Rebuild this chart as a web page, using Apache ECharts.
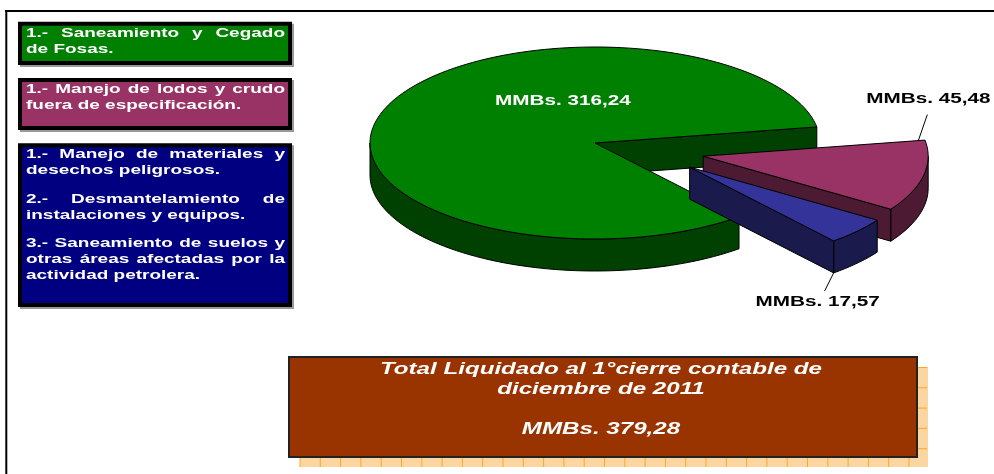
<!DOCTYPE html>
<html>
<head>
<meta charset="utf-8">
<script src="https://cdn.jsdelivr.net/npm/echarts@6/dist/echarts.min.js"></script>
<style>
html, body { margin: 0; padding: 0; background: #fff; }
#main { width: 994px; height: 474px; }
</style>
</head>
<body>
<div id="main"></div>
<script>
// datos del grafico
var sliceNames = ['Saneamiento y Cegado de Fosas', 'Manejo de lodos y crudo', 'Materiales, desmantelamiento y suelos'];
var sliceValues = [316.24, 45.48, 17.57];
var totalValue = 379.28;

var legendTexts = [
    ['1.- Saneamiento y Cegado', 'de Fosas.'],
    ['1.- Manejo de lodos y crudo', 'fuera de especificación.'],
    ['1.- Manejo de materiales y', 'desechos peligrosos.', '',
     '2.- Desmantelamiento de', 'instalaciones y equipos.', '',
     '3.- Saneamiento de suelos y', 'otras áreas afectadas por la', 'actividad petrolera.']
];
var totalTexts = ['Total Liquidado al 1°cierre contable de', 'diciembre de 2011', '', 'MMBs. ' + fmt(totalValue)];

// estilos
var topColors = ['#008000', '#993366', '#333399'];
var sideColors = ['#004000', '#4d1a33', '#1a1a4d'];
var legendColors = ['#008000', '#993366', '#000080'];
var explode = [0, 0.5, 0.49];
var explodeTurn = [0, -4, 11];
var PIE = { cx: 595, cy: 143, rx: 225, ry: 96, depth: 32, startAngle: 309.8 };
var FONT = 'Arial, Liberation Sans, sans-serif';
// el texto original sale ensanchado horizontalmente
var WIDEN = { label: 1.38, legend: 1.46, total: 1.42 };

function fmt(v) { return v.toFixed(2).replace('.', ','); }

var RAD = Math.PI / 180;
var sum = 0;
sliceValues.forEach(function (v) { sum += v; });
var spans = [], cum = [], acc = 0;
sliceValues.forEach(function (v) { var s = v / sum * 360; spans.push(s); cum.push(acc); acc += s; });

function sliceGeom(i) {
    var hi = PIE.startAngle - cum[i];
    var lo = hi - spans[i];
    var dir = (lo + hi) / 2 + explodeTurn[i];
    var k = explode[i];
    return {
        lo: lo, hi: hi,
        ox: PIE.cx + k * PIE.rx * Math.cos(dir * RAD),
        oy: PIE.cy - k * PIE.ry * Math.sin(dir * RAD)
    };
}
function rim(g, a, r, dz) {
    return [g.ox + r * PIE.rx * Math.cos(a * RAD), g.oy - r * PIE.ry * Math.sin(a * RAD) + (dz || 0)];
}
function arc(g, a0, a1, dz) {
    var pts = [];
    var n = Math.max(2, Math.ceil(Math.abs(a1 - a0) / 2));
    for (var j = 0; j <= n; j++) {
        pts.push(rim(g, a0 + (a1 - a0) * j / n, 1, dz));
    }
    return pts;
}
function face(points, fill) {
    return { type: 'polygon', shape: { points: points }, style: { fill: fill, stroke: '#000', lineWidth: 1, lineJoin: 'round' } };
}
function textEl(t, x, y, size, color, align, widen, italic) {
    return { type: 'text', x: x, y: y, scaleX: widen, style: {
        text: t, x: 0, y: 0, fill: color,
        fontSize: size, fontWeight: 'bold', fontStyle: italic ? 'italic' : 'normal', fontFamily: FONT,
        align: align, verticalAlign: 'middle', textAlign: align, textVerticalAlign: 'middle'
    } };
}

// etiquetas de cada porcion
var labelPlace = [
    { inside: true, dx: -32, dy: -42.5 },
    { edge: 'hi', r: 0.97, drop: 0, leader: [9, -26], text: [1, -16] },
    { edge: 'lo', r: 1, drop: 1, leader: [-9, 18], text: [-7, 10.5] }
];

function renderSlice(params, api) {
    var i = params.dataIndex;
    var value = api.value(0);
    var g = sliceGeom(i);
    var d = PIE.depth;
    var kids = [];
    // pared exterior (solo la mitad frontal)
    for (var k = -1; k <= 1; k++) {
        var s = Math.max(g.lo, 180 + 360 * k), e = Math.min(g.hi, 360 + 360 * k);
        if (e > s) {
            kids.push(face(arc(g, s, e, 0).concat(arc(g, e, s, d)), sideColors[i]));
        }
    }
    // caras radiales visibles
    var tip = [g.ox, g.oy], tipB = [g.ox, g.oy + d];
    if (Math.cos(g.lo * RAD) > 0) {
        kids.push(face([tip, rim(g, g.lo, 1, 0), rim(g, g.lo, 1, d), tipB], sideColors[i]));
    }
    if (Math.cos(g.hi * RAD) < 0) {
        kids.push(face([tip, rim(g, g.hi, 1, 0), rim(g, g.hi, 1, d), tipB], sideColors[i]));
    }
    // cara superior
    kids.push(face([tip].concat(arc(g, g.lo, g.hi, 0)), topColors[i]));

    var lp = labelPlace[i];
    var txt = 'MMBs. ' + fmt(value);
    if (lp.inside) {
        kids.push(textEl(txt, g.ox + lp.dx, g.oy + lp.dy, 15, '#fff', 'center', WIDEN.label));
    } else {
        var a = rim(g, lp.edge === 'hi' ? g.hi : g.lo, lp.r, lp.drop * d);
        var b = [a[0] + lp.leader[0], a[1] + lp.leader[1]];
        kids.push({ type: 'line', shape: { x1: a[0], y1: a[1], x2: b[0], y2: b[1] }, style: { stroke: '#000', lineWidth: 1 } });
        kids.push(textEl(txt, b[0] + lp.text[0], b[1] + lp.text[1], 15, '#000', 'center', WIDEN.label));
    }
    return { type: 'group', children: kids };
}

// cuadros de leyenda
var legendBoxes = [
    { y0: 21.7, y1: 65, baseline: 37.7 },
    { y0: 78, y1: 130, baseline: 94.3 },
    { y0: 143.3, y1: 307, baseline: 159.3 }
];
var BOX_X0 = 18, BOX_X1 = 292, TEXT_X0 = 26, TEXT_X1 = 285;
var LINE_PITCH = 16, BLANK_GAP = 12.5;
var measureCtx = document.createElement('canvas').getContext('2d');
function textW(s, font) {
    measureCtx.font = font;
    return measureCtx.measureText(s).width * WIDEN.legend;
}

var graphics = [];
// marco
graphics.push({ type: 'line', shape: { x1: 5, y1: 11, x2: 994, y2: 11 }, style: { stroke: '#000', lineWidth: 2 } });
graphics.push({ type: 'line', shape: { x1: 6.3, y1: 10, x2: 6.3, y2: 474 }, style: { stroke: '#000', lineWidth: 2 } });

legendBoxes.forEach(function (bx, b) {
    graphics.push({ type: 'rect', shape: { x: BOX_X0 + 2, y: bx.y0 + 2, width: BOX_X1 - BOX_X0, height: bx.y1 - bx.y0 },
        style: { fill: '#999' } });
    graphics.push({ type: 'rect', shape: { x: BOX_X0 + 2, y: bx.y0 + 2, width: BOX_X1 - BOX_X0 - 4, height: bx.y1 - bx.y0 - 4 },
        style: { fill: legendColors[b], stroke: '#000', lineWidth: 4 } });
    var font = 'bold 13px ' + FONT;
    var lines = legendTexts[b];
    var y = bx.baseline;
    lines.forEach(function (line, j) {
        if (line === '') { y += BLANK_GAP; return; }
        var next = lines[j + 1];
        var justify = next !== undefined && next !== '';
        var ym = y - 4.5;
        if (justify) {
            var words = line.split(' ');
            var ws = words.map(function (w) { return textW(w, font); });
            var tot = 0;
            ws.forEach(function (w) { tot += w; });
            var gap = (TEXT_X1 - TEXT_X0 - tot) / (words.length - 1);
            var x = TEXT_X0;
            words.forEach(function (w, m) {
                graphics.push(textEl(w, x, ym, 13, '#fff', 'left', WIDEN.legend));
                x += ws[m] + gap;
            });
        } else {
            graphics.push(textEl(line, TEXT_X0, ym, 13, '#fff', 'left', WIDEN.legend));
        }
        y += LINE_PITCH;
    });
});

// cuadro del total con sombra cuadriculada
var TB = { x0: 289, y0: 357, x1: 917, y1: 457, shadow: 10 };
graphics.push({ type: 'rect', shape: { x: TB.x0 + 11, y: TB.y0 + TB.shadow, width: TB.x1 - TB.x0, height: TB.y1 - TB.y0 },
    style: { fill: '#fcd6a0' } });
for (var gx = TB.x0 + 11; gx <= TB.x1 + TB.shadow + 1; gx += 20.3) {
    graphics.push({ type: 'line', shape: { x1: gx, y1: TB.y0 + TB.shadow, x2: gx, y2: TB.y1 + TB.shadow }, style: { stroke: '#ffa726', lineWidth: 1 } });
}
for (var gy = TB.y0 + TB.shadow + 0.5; gy <= TB.y1 + TB.shadow; gy += 20.3) {
    graphics.push({ type: 'line', shape: { x1: TB.x0 + 11, y1: gy, x2: TB.x1 + TB.shadow, y2: gy }, style: { stroke: '#ffa726', lineWidth: 1 } });
}
graphics.push({ type: 'rect', shape: { x: TB.x0, y: TB.y0, width: TB.x1 - TB.x0, height: TB.y1 - TB.y0 },
    style: { fill: '#993300', stroke: '#222', lineWidth: 2 } });
var totalY = [369, 389, 409, 429];
totalTexts.forEach(function (t, j) {
    if (!t) return;
    graphics.push(textEl(t, 601, totalY[j], 17, '#fff', 'center', WIDEN.total, true));
});

var chart = echarts.init(document.getElementById('main'));
chart.setOption({
    animation: false,
    backgroundColor: '#fff',
    graphic: { elements: graphics },
    series: [{
        type: 'custom',
        name: 'MMBs',
        coordinateSystem: 'none',
        silent: true,
        data: sliceValues.map(function (v, i) { return { name: sliceNames[i], value: v }; }),
        renderItem: renderSlice
    }]
});
</script>
</body>
</html>
